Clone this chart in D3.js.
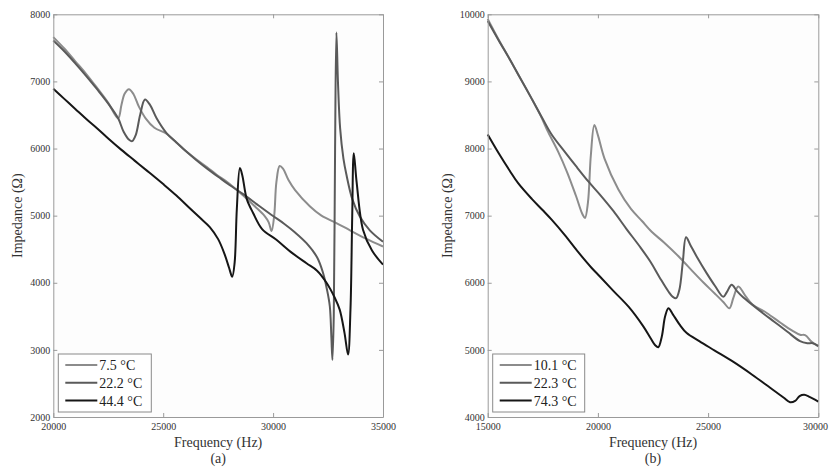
<!DOCTYPE html>
<html>
<head>
<meta charset="utf-8">
<script src="https://cdn.jsdelivr.net/npm/d3@7"></script>
<style>
  body { margin: 0; background: #fff; }
  svg { display: block; }
</style>
</head>
<body>
<div id="chart"></div>
<script>
// ---- data ----
// panel (a)
var freqA1 = [20000,20500,21000,21500,22000,22500,22950,23100,23250,23440,23650,23900,24200,24600,25150,25600,26000,26500,27000,27430,28000,28640,29200,29600,29800,29930,30050,30150,30300,30450,30700,31000,31670,32200,32880,33500,34200,35000];
var impA1  = [7660,7490,7300,7110,6900,6680,6450,6650,6820,6885,6810,6620,6450,6310,6220,6090,5970,5840,5720,5610,5480,5300,5130,5000,4900,4770,5000,5500,5740,5700,5530,5380,5140,5000,4890,4780,4660,4540];

var freqA2 = [20000,20500,21000,21500,22000,22500,22950,23200,23450,23590,23750,23950,24170,24400,24700,25150,25600,26000,26500,27000,27500,28000,28640,29300,29930,30500,31000,31520,32000,32270,32450,32580,32650,32700,32760,32820,32880,32950,33050,33200,33330,33600,33940,34400,35000];
var impA2  = [7610,7450,7270,7080,6880,6670,6450,6250,6130,6110,6200,6500,6730,6650,6450,6230,6090,5970,5830,5700,5580,5460,5320,5160,5010,4880,4750,4590,4380,4150,3900,3650,3200,2850,3500,6000,7730,7000,6300,5850,5620,5250,4990,4780,4610];

var freqA3 = [20000,20500,21000,21500,22000,22500,23100,23700,24300,25000,25600,26210,26700,27120,27500,27800,28000,28140,28250,28350,28490,28600,28800,29090,29500,30150,30800,31520,32000,32430,32800,33030,33250,33410,33520,33600,33670,33800,34090,34500,35000];
var impA3  = [6890,6740,6590,6440,6300,6150,5980,5820,5660,5470,5300,5110,4960,4830,4650,4420,4220,4090,4300,5100,5710,5600,5250,5040,4800,4640,4460,4290,4180,4000,3780,3600,3250,2930,3600,5000,5930,5500,4790,4480,4270];

// panel (b)
var freqB1 = [15000,15500,16000,16390,17000,17400,17750,18200,18600,19000,19300,19415,19550,19680,19840,20000,20300,20930,21500,22000,22440,23000,23730,24300,24800,25300,25700,25965,26150,26370,26700,27000,27660,28300,28800,29170,29400,29700,30000];
var impB1  = [9930,9620,9330,9100,8740,8490,8240,7950,7650,7300,7020,6965,7200,7900,8350,8200,7850,7390,7100,6920,6760,6600,6370,6170,6000,5840,5710,5620,5780,5945,5800,5680,5550,5400,5290,5225,5220,5120,5050];

var freqB2 = [15000,15500,16000,16390,17000,17500,17900,18500,19000,19565,20100,20700,21300,21900,22370,22800,23200,23400,23550,23700,23850,24000,24200,24500,24940,25300,25690,25850,26070,26300,26600,26900,27400,28000,28600,29170,29500,29750,30000];
var impB2  = [9900,9610,9330,9100,8740,8440,8210,7950,7740,7510,7310,7070,6800,6540,6320,6080,5870,5790,5770,5900,6300,6680,6560,6380,6140,5960,5790,5860,5970,5880,5780,5700,5570,5420,5270,5130,5100,5100,5060];

var freqB3 = [15000,15500,16000,16390,17000,17500,17900,18500,19100,19720,20100,20700,21400,22060,22400,22600,22740,22900,23050,23200,23400,23700,24030,24600,25300,26150,27000,27800,28420,28720,28950,29150,29360,29600,30000];
var impB3  = [8210,7930,7670,7480,7250,7080,6940,6710,6460,6220,6090,5880,5640,5350,5170,5070,5040,5200,5500,5620,5530,5380,5250,5130,4990,4820,4630,4440,4290,4220,4240,4310,4330,4300,4230];

var labelsA = ["7.5 \u00B0C", "22.2 \u00B0C", "44.4 \u00B0C"];
var labelsB = ["10.1 \u00B0C", "22.3 \u00B0C", "74.3 \u00B0C"];

var xTicksA = [20000, 25000, 30000, 35000];
var yTicksA = [2000, 3000, 4000, 5000, 6000, 7000, 8000];
var xTicksB = [15000, 20000, 25000, 30000];
var yTicksB = [4000, 5000, 6000, 7000, 8000, 9000, 10000];

// greys for the three temperatures
var colors = ["#8c8c8c", "#5a5a5a", "#161616"];

var W = 829, H = 468;
var svg = d3.select("#chart").append("svg")
  .attr("width", W)
  .attr("height", H);

function drawPanel(p) {
  var x = d3.scaleLinear().domain(p.xDomain).range([p.left, p.right]);
  var y = d3.scaleLinear().domain(p.yDomain).range([p.bottom, p.top]);

  var g = svg.append("g");

  //plot background
  g.append("rect")
    .attr("x", p.left).attr("y", p.top)
    .attr("width", p.right - p.left).attr("height", p.bottom - p.top)
    .style("fill", "#fdfdfd");

  //series lines
  var line = d3.line()
    .x(function(d) { return x(d[0]); })
    .y(function(d) { return y(d[1]); })
    .curve(d3.curveCatmullRom.alpha(0.5));

  p.series.forEach(function(s, i) {
    var pts = s.f.map(function(f, j) { return [f, s.v[j]]; });
    g.append("path")
      .datum(pts)
      .attr("d", line)
      .style("fill", "none")
      .style("stroke", colors[i])
      .style("stroke-width", 2)
      .style("stroke-linejoin", "round");
  });

  //axes, ticks pointing in on all four sides
  var bottom = g.append("g")
    .attr("transform", "translate(0," + p.bottom + ")")
    .call(d3.axisBottom(x).tickValues(p.xTicks).tickFormat(d3.format("d"))
      .tickSizeInner(-4).tickSizeOuter(0).tickPadding(6));
  var left = g.append("g")
    .attr("transform", "translate(" + p.left + ",0)")
    .call(d3.axisLeft(y).tickValues(p.yTicks).tickFormat(d3.format("d"))
      .tickSizeInner(-4).tickSizeOuter(0).tickPadding(3));
  var top = g.append("g")
    .attr("transform", "translate(0," + p.top + ")")
    .call(d3.axisTop(x).tickValues(p.xTicks).tickFormat("")
      .tickSizeInner(-4).tickSizeOuter(0));
  var right = g.append("g")
    .attr("transform", "translate(" + p.right + ",0)")
    .call(d3.axisRight(y).tickValues(p.yTicks).tickFormat("")
      .tickSizeInner(-4).tickSizeOuter(0));

  [bottom, left, top, right].forEach(function(a) {
    a.select(".domain").style("stroke", "#9a9a9a");
    a.selectAll(".tick line").style("stroke", "#9a9a9a");
    a.selectAll("text")
      .style("font-family", "'Liberation Serif', 'DejaVu Serif', serif")
      .style("font-size", "10px")
      .style("fill", "#333");
  });

  // last x label sits at the page edge; nudge it in so it is not clipped
  bottom.selectAll(".tick text")
    .filter(function(d) { return x(d) + 14 > W; })
    .attr("x", function(d) { return W - 1 - 13 - x(d); });

  //axis titles
  var cx = (p.left + p.right) / 2;
  g.append("text")
    .attr("x", cx).attr("y", 442)
    .attr("dy", "0.35em")
    .attr("text-anchor", "middle")
    .style("font-family", "'Liberation Serif', serif")
    .style("font-size", "14px")
    .style("fill", "#333")
    .text("Frequency (Hz)");
  g.append("text")
    .attr("x", cx).attr("y", 458)
    .attr("dy", "0.35em")
    .attr("text-anchor", "middle")
    .style("font-family", "'Liberation Serif', serif")
    .style("font-size", "14px")
    .style("fill", "#333")
    .text(p.caption);
  g.append("text")
    .attr("transform", "translate(" + p.yLabelX + "," + ((p.top + p.bottom) / 2) + ") rotate(-90)")
    .attr("dy", "0.35em")
    .attr("text-anchor", "middle")
    .style("font-family", "'Liberation Serif', serif")
    .style("font-size", "14px")
    .style("fill", "#333")
    .text("Impedance (\u03A9)");

  //legend
  var lg = g.append("g")
    .attr("transform", "translate(" + (p.left + 5) + "," + (p.bottom - 63) + ")");
  lg.append("rect")
    .attr("width", p.legendW).attr("height", 58)
    .style("fill", "#fff")
    .style("stroke", "#8a8a8a")
    .style("stroke-width", 1);
  p.labels.forEach(function(lbl, i) {
    var ly = 11 + i * 17.8;
    lg.append("line")
      .attr("x1", 7).attr("x2", 39)
      .attr("y1", ly).attr("y2", ly)
      .style("stroke", colors[i])
      .style("stroke-width", 2);
    lg.append("text")
      .attr("x", 41).attr("y", ly)
      .attr("dy", "0.35em")
      .style("font-family", "'Liberation Serif', serif")
      .style("font-size", "14px")
      .style("fill", "#222")
      .text(lbl);
  });
}

drawPanel({
  left: 53.3, right: 383, top: 14.3, bottom: 417,
  xDomain: [20000, 35000], yDomain: [2000, 8000],
  xTicks: xTicksA, yTicks: yTicksA,
  series: [{f: freqA1, v: impA1}, {f: freqA2, v: impA2}, {f: freqA3, v: impA3}],
  labels: labelsA, legendW: 93, yLabelX: 17, caption: "(a)"
});

drawPanel({
  left: 487.7, right: 818.3, top: 14.3, bottom: 417,
  xDomain: [15000, 30000], yDomain: [4000, 10000],
  xTicks: xTicksB, yTicks: yTicksB,
  series: [{f: freqB1, v: impB1}, {f: freqB2, v: impB2}, {f: freqB3, v: impB3}],
  labels: labelsB, legendW: 92, yLabelX: 447, caption: "(b)"
});
</script>
</body>
</html>
